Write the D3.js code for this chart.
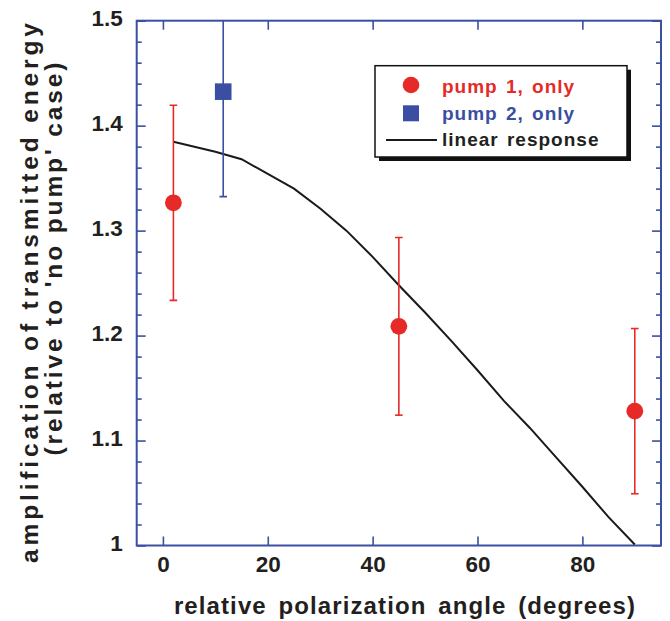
<!DOCTYPE html>
<html>
<head>
<meta charset="utf-8">
<script src="https://cdn.jsdelivr.net/npm/d3@7"></script>
<style>
  html, body { margin: 0; padding: 0; background: #fff; }
  svg { display: block; }
  text { font-family: "Liberation Sans", Arial, Helvetica, sans-serif; font-weight: bold; fill: #231f20; }
</style>
</head>
<body>
<svg id="chart" width="670" height="621"></svg>
<script>
// ---------------- data ----------------
const pump1Angle = [2, 45, 90];
const pump1Value = [1.3265, 1.2088, 1.128];
const pump1Err   = [0.093, 0.0846, 0.0787];

const pump2Angle = [11.5];
const pump2Value = [1.4324];
const pump2Err   = [0.1];

const linearAngle = [2, 10, 15, 25, 30, 35, 40, 45, 50, 55, 60, 65, 70, 75, 80, 85, 90];
const linearValue = [1.3847, 1.3752, 1.368, 1.340, 1.321, 1.300, 1.275, 1.248, 1.222, 1.195, 1.167, 1.138, 1.112, 1.084, 1.056, 1.027, 1.001];

const xTicks = [0, 20, 40, 60, 80];
const xTickLabels = ["0", "20", "40", "60", "80"];
const yTicks = [1, 1.1, 1.2, 1.3, 1.4, 1.5];
const yTickLabels = ["1", "1.1", "1.2", "1.3", "1.4", "1.5"];
const yMinorTicks = [1.02, 1.04, 1.06, 1.08, 1.12, 1.14, 1.16, 1.18, 1.22, 1.24, 1.26, 1.28,
                     1.32, 1.34, 1.36, 1.38, 1.42, 1.44, 1.46, 1.48];

const legendLabels = ["pump 1, only", "pump 2, only", "linear response"];

// ---------------- layout ----------------
const L = 136.7, T = 20.7, R = 661, B = 545.5;
const RED = "#e52a27", BLUE = "#3a4ea2", AXIS = "#3b4fa3";

const svg = d3.select("#chart");
const x = d3.scaleLinear().domain([-5, 95]).range([L, R]);
const y = d3.scaleLinear().domain([1, 1.5]).range([B, T]);

svg.append("defs").append("clipPath").attr("id", "plotclip")
  .append("rect").attr("x", L).attr("y", T).attr("width", R - L).attr("height", B - T);

// axes
const fmtY = d => yTickLabels[yTicks.findIndex(t => Math.abs(t - d) < 1e-9)];
const fmtX = d => xTickLabels[xTicks.indexOf(d)];

function styleAxis(g, labels) {
  g.select(".domain").remove();
  g.selectAll(".tick line").attr("stroke", AXIS).attr("stroke-width", 1.6);
  if (!labels) g.selectAll(".tick text").remove();
  else g.selectAll(".tick text").attr("font-size", 22.5).attr("fill", "#231f20")
        .style("font-family", "'Liberation Sans', Arial, sans-serif").style("font-weight", "bold");
}

svg.append("g").attr("transform", `translate(${L},0)`)
  .call(d3.axisLeft(y).tickValues(yTicks).tickSize(-9).tickPadding(14).tickFormat(fmtY))
  .call(g => styleAxis(g, true))
  .call(g => g.selectAll(".tick text").attr("dy", "0.2em"));
svg.append("g").attr("transform", `translate(${L},0)`)
  .call(d3.axisLeft(y).tickValues(yMinorTicks).tickSize(-5).tickFormat(""))
  .call(g => styleAxis(g, false));
svg.append("g").attr("transform", `translate(${R},0)`)
  .call(d3.axisRight(y).tickValues(yTicks).tickSize(-9).tickFormat(""))
  .call(g => styleAxis(g, false));
svg.append("g").attr("transform", `translate(${R},0)`)
  .call(d3.axisRight(y).tickValues(yMinorTicks).tickSize(-5).tickFormat(""))
  .call(g => styleAxis(g, false));
svg.append("g").attr("transform", `translate(0,${B})`)
  .call(d3.axisBottom(x).tickValues(xTicks).tickSize(-9).tickPadding(10.5).tickFormat(fmtX))
  .call(g => styleAxis(g, true));
svg.append("g").attr("transform", `translate(0,${T})`)
  .call(d3.axisTop(x).tickValues(xTicks).tickSize(-9).tickFormat(""))
  .call(g => styleAxis(g, false));

// frame
svg.append("rect").attr("x", L).attr("y", T).attr("width", R - L).attr("height", B - T)
  .attr("fill", "none").attr("stroke", AXIS).attr("stroke-width", 2);

const plot = svg.append("g").attr("clip-path", "url(#plotclip)");

// linear response
const lineData = linearAngle.map((a, i) => [a, linearValue[i]]);
plot.append("path").datum(lineData)
  .attr("d", d3.line().x(d => x(d[0])).y(d => y(d[1])))
  .attr("fill", "none").attr("stroke", "#1a1a1a").attr("stroke-width", 2);

// error bars
function errorBars(angles, values, errs, color) {
  const g = plot.append("g").attr("stroke", color).attr("stroke-width", 1.6);
  angles.forEach((a, i) => {
    const cx = x(a), hi = values[i] + errs[i], lo = values[i] - errs[i];
    g.append("line").attr("x1", cx).attr("x2", cx).attr("y1", y(hi)).attr("y2", y(lo));
    g.append("line").attr("x1", cx - 3.8).attr("x2", cx + 3.8).attr("y1", y(hi)).attr("y2", y(hi));
    g.append("line").attr("x1", cx - 3.8).attr("x2", cx + 3.8).attr("y1", y(lo)).attr("y2", y(lo));
  });
}
errorBars(pump1Angle, pump1Value, pump1Err, RED);
errorBars(pump2Angle, pump2Value, pump2Err, BLUE);

plot.selectAll("circle.p1").data(pump1Angle).join("circle").attr("class", "p1")
  .attr("cx", d => x(d)).attr("cy", (d, i) => y(pump1Value[i])).attr("r", 8.4).attr("fill", RED);
plot.selectAll("rect.p2").data(pump2Angle).join("rect").attr("class", "p2")
  .attr("x", d => x(d) - 8.3).attr("y", (d, i) => y(pump2Value[i]) - 8.3)
  .attr("width", 16.6).attr("height", 16.6).attr("fill", BLUE);

// axis titles
svg.append("text").attr("x", 405).attr("y", 614)
  .attr("text-anchor", "middle").attr("font-size", 24)
  .attr("letter-spacing", 1.1).attr("word-spacing", 4)
  .text("relative polarization angle (degrees)");

svg.append("text").attr("transform", "translate(38,293) rotate(-90)")
  .attr("text-anchor", "middle").attr("font-size", 24.5)
  .attr("textLength", 540).attr("lengthAdjust", "spacing")
  .text("amplification of transmitted energy");
svg.append("text").attr("transform", "translate(62,259) rotate(-90)")
  .attr("text-anchor", "middle").attr("font-size", 24.5)
  .attr("textLength", 393).attr("lengthAdjust", "spacing")
  .text("(relative to 'no pump' case)");

// legend
const lg = svg.append("g");
lg.append("rect").attr("x", 379).attr("y", 69.7).attr("width", 252).attr("height", 91.3).attr("fill", "#111");
lg.append("rect").attr("x", 375).attr("y", 65.7).attr("width", 252).attr("height", 91.3)
  .attr("fill", "#fff").attr("stroke", "#111").attr("stroke-width", 1.5);
lg.append("circle").attr("cx", 411).attr("cy", 85).attr("r", 8.3).attr("fill", RED);
lg.append("rect").attr("x", 403).attr("y", 105.3).attr("width", 16).attr("height", 16).attr("fill", BLUE);
lg.append("line").attr("x1", 386).attr("x2", 437).attr("y1", 140).attr("y2", 140)
  .attr("stroke", "#1a1a1a").attr("stroke-width", 1.8);
const legendColors = [RED, BLUE, "#231f20"];
const legendBase = [92.7, 120, 146];
legendLabels.forEach((t, i) => {
  lg.append("text").attr("x", 442).attr("y", legendBase[i]).attr("font-size", 19)
    .attr("letter-spacing", 1.0).attr("word-spacing", 2)
    .style("fill", legendColors[i]).text(t);
});
</script>
</body>
</html>
